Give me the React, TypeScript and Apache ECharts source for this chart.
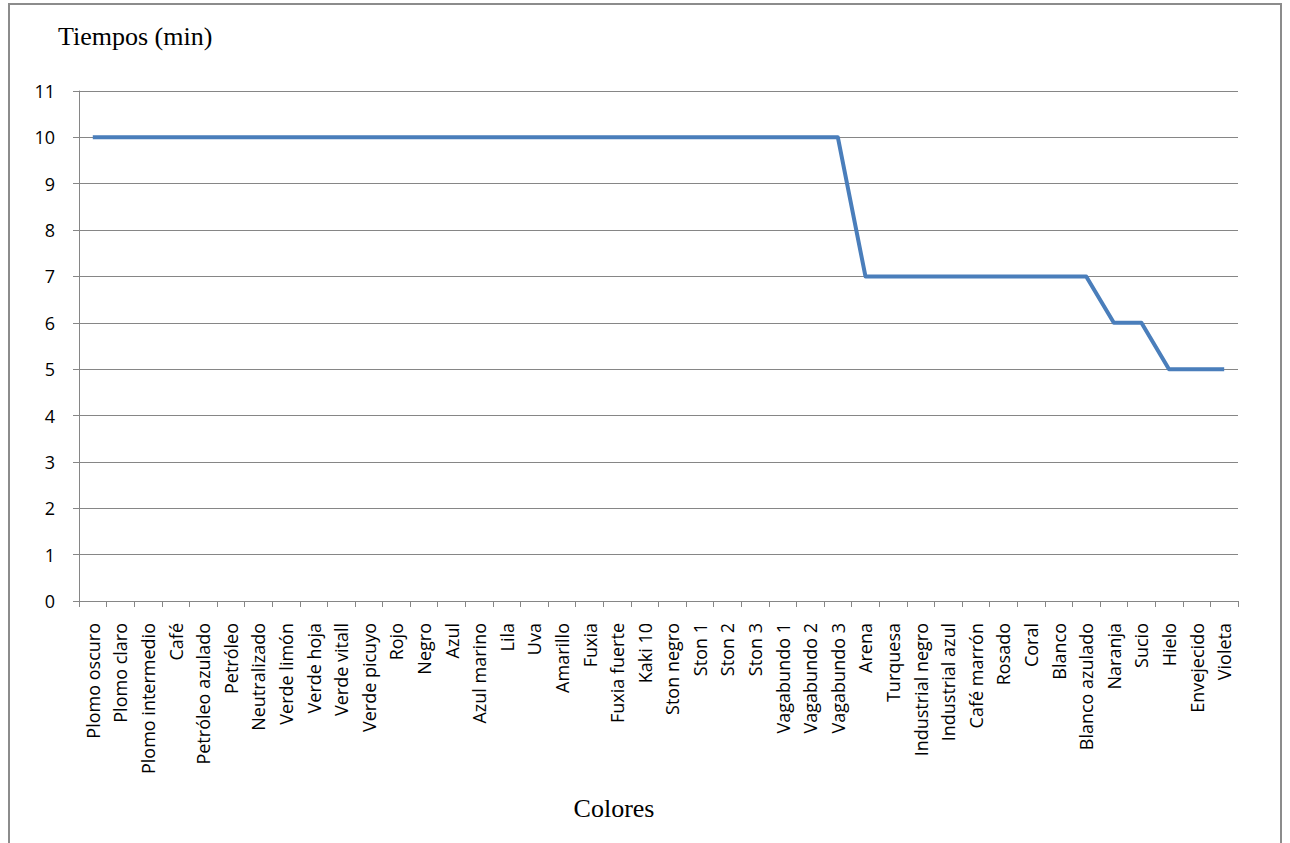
import React, { useEffect, useRef } from "react";
import * as echarts from "echarts";

const categories = [
  "Plomo oscuro", "Plomo claro", "Plomo intermedio", "Café", "Petróleo azulado", "Petróleo",
  "Neutralizado", "Verde limón", "Verde hoja", "Verde vitall", "Verde picuyo", "Rojo", "Negro",
  "Azul", "Azul marino", "Lila", "Uva", "Amarillo", "Fuxia", "Fuxia fuerte", "Kaki 10",
  "Ston negro", "Ston 1", "Ston 2", "Ston 3", "Vagabundo 1", "Vagabundo 2", "Vagabundo 3",
  "Arena", "Turquesa", "Industrial negro", "Industrial azul", "Café marrón", "Rosado", "Coral",
  "Blanco", "Blanco azulado", "Naranja", "Sucio", "Hielo", "Envejecido", "Violeta",
];

const tiempos = [
  10, 10, 10, 10, 10, 10, 10, 10, 10, 10, 10, 10, 10, 10, 10, 10, 10, 10, 10, 10, 10, 10, 10, 10,
  10, 10, 10, 10,
  7, 7, 7, 7, 7, 7, 7, 7, 7,
  6, 6,
  5, 5, 5,
];

const yMin = 0;
const yMax = 11;
const yInterval = 1;

export default function App() {
  const ref = useRef<HTMLDivElement>(null);
  useEffect(() => {
    if (!ref.current) return;
    const chart = echarts.init(ref.current, null, { renderer: "svg" });
    chart.setOption({
      animation: false,
      backgroundColor: "#ffffff",
      graphic: [
        {
          type: "rect",
          shape: { x: 9, y: 4, width: 1272, height: 900 },
          style: { fill: "none", stroke: "#8c8c8c", lineWidth: 2 },
          silent: true,
        },
        {
          type: "text",
          x: 58,
          y: 36,
          style: {
            text: "Tiempos (min)",
            font: '26px "Liberation Serif"',
            fill: "#000",
            verticalAlign: "middle",
            align: "left",
          },
        },
        {
          type: "text",
          x: 614,
          y: 808,
          style: {
            text: "Colores",
            font: '26px "Liberation Serif"',
            fill: "#000",
            verticalAlign: "middle",
            align: "center",
          },
        },
      ],
      grid: { left: 79, right: 52, top: 91, bottom: 242, containLabel: false },
      xAxis: {
        type: "category",
        data: categories,
        boundaryGap: true,
        axisLine: { lineStyle: { color: "#868686", width: 1 } },
        axisTick: { show: true, alignWithLabel: false, length: 6, lineStyle: { color: "#868686" } },
        axisLabel: {
          rotate: 90,
          interval: 0,
          margin: 22,
          color: "#000",
          fontFamily: "Open Sans",
          fontSize: 18,
        },
      },
      yAxis: {
        type: "value",
        min: yMin,
        max: yMax,
        interval: yInterval,
        axisLine: { show: true, lineStyle: { color: "#868686", width: 1 } },
        axisTick: { show: true, length: 6, lineStyle: { color: "#868686" } },
        splitLine: { show: true, lineStyle: { color: "#868686", width: 1 } },
        axisLabel: {
          color: "#000",
          fontFamily: "Open Sans",
          fontSize: 18,
          margin: 24,
        },
      },
      series: [
        {
          type: "line",
          data: tiempos,
          symbol: "none",
          lineStyle: { color: "#4a7ebb", width: 4, join: "round" },
        },
      ],
    });
    return () => chart.dispose();
  }, []);
  return (
    <div
      ref={ref}
      style={{ position: "absolute", left: 0, top: 0, width: 1290, height: 843 }}
    />
  );
}
